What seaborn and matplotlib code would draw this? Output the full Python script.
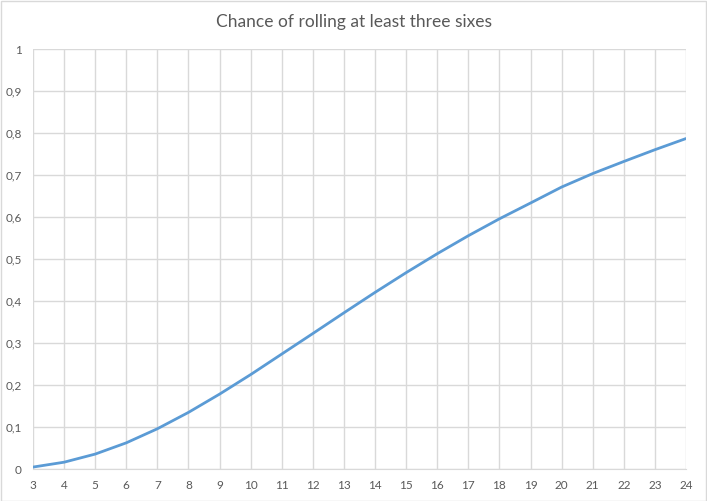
import matplotlib
matplotlib.use("Agg")
import matplotlib.pyplot as plt
from matplotlib.patches import Rectangle
import seaborn as sns
import pandas as pd

rolls = list(range(3, 25))
chance = [0.0046, 0.0162, 0.0355, 0.0623, 0.0958, 0.1348, 0.1783, 0.2248,
          0.2737, 0.3226, 0.3719, 0.4205, 0.4675, 0.5126, 0.5554, 0.5957,
          0.6333, 0.6713, 0.7034, 0.7322, 0.7602, 0.7868]
y_ticks = [0, 0.1, 0.2, 0.3, 0.4, 0.5, 0.6, 0.7, 0.8, 0.9, 1]
y_labels = ["0", "0,1", "0,2", "0,3", "0,4", "0,5", "0,6", "0,7", "0,8", "0,9", "1"]

df = pd.DataFrame({"rolls": rolls, "chance": chance})

sns.set_style("white")
plt.rcParams["font.family"] = ["Lato", "DejaVu Sans"]

W, H = 707, 501
fig = plt.figure(figsize=(W / 100, H / 100), dpi=100)
ax = fig.add_axes([33 / W, (H - 469) / H, (686 - 33) / W, (469 - 49) / H])

sns.lineplot(data=df, x="rolls", y="chance", ax=ax, color="#5b9bd5", linewidth=2)

ax.set_xlim(3, 24)
ax.set_ylim(0, 1)
ax.set_xticks(rolls)
ax.set_xticklabels([str(r) for r in rolls])
ax.set_yticks(y_ticks)
ax.set_yticklabels(y_labels)
ax.grid(True, color="#d9d9d9", linewidth=1)
ax.set_axisbelow(True)
for side in ["top", "right", "left"]:
    ax.spines[side].set_visible(False)
ax.spines["bottom"].set_color("#d9d9d9")
ax.tick_params(axis="both", length=0, labelsize=8.5, colors="#595959", pad=8)
ax.set_xlabel("")
ax.set_ylabel("")

fig.text(0.5, 1 - 22 / H, "Chance of rolling at least three sixes", ha="center",
         va="center", fontsize=12.5, color="#595959")
fig.patches.append(Rectangle((0.5 / W, 0.5 / H), 1 - 1.5 / W, 1 - 1.5 / H,
                             transform=fig.transFigure, fill=False,
                             edgecolor="#d9d9d9", linewidth=1))

fig.savefig("out.png", dpi=100)
